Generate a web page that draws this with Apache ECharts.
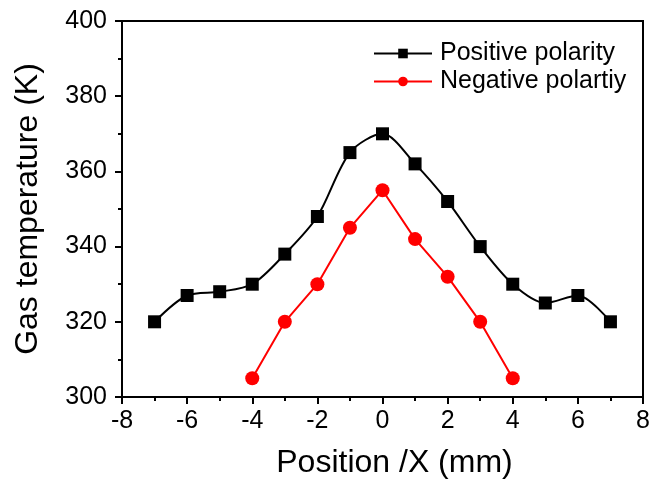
<!DOCTYPE html>
<html>
<head>
<meta charset="utf-8">
<script src="https://cdn.jsdelivr.net/npm/echarts@6/dist/echarts.min.js"></script>
<style>
  html, body { margin: 0; padding: 0; background: #fff; }
  #chart { width: 662px; height: 481px; }
</style>
</head>
<body>
<div id="chart"></div>
<script>
// Gas temperature profiles across the discharge gap
const positions = [-7, -6, -5, -4, -3, -2, -1, 0, 1, 2, 3, 4, 5, 6, 7];
const positiveTemp = [320, 327, 328, 330, 338, 348, 365, 370, 362, 352, 340, 330, 325, 327, 320];
const negativePositions = [-4, -3, -2, -1, 0, 1, 2, 3, 4];
const negativeTemp = [305, 320, 330, 345, 355, 342, 332, 320, 305];
const seriesNames = ['Positive polarity', 'Negative polartiy'];

const pairs = (xs, ys) => xs.map((x, i) => [x, ys[i]]);
const font = 'Liberation Sans, Arial, sans-serif';
const axisLine = { show: true, onZero: false, lineStyle: { color: '#000', width: 2 } };
const tick = { show: true, inside: false, length: 7, lineStyle: { color: '#000', width: 2 } };
const minor = { show: true, splitNumber: 2, length: 4, lineStyle: { color: '#000', width: 2 } };

const chart = echarts.init(document.getElementById('chart'));
chart.setOption({
  animation: false,
  grid: {
    left: 122, right: 19, top: 21, bottom: 84,
    outerBoundsMode: 'none', containLabel: false,
    show: true, borderColor: '#000', borderWidth: 2
  },
  legend: {
    left: 368, top: 36, orient: 'vertical', itemGap: 3,
    itemWidth: 58, itemHeight: 12,
    textStyle: { fontFamily: font, fontSize: 25, color: '#000', padding: [0, 0, 0, 3] },
    data: seriesNames
  },
  xAxis: {
    type: 'value', min: -8, max: 8, interval: 2,
    name: 'Position /X (mm)', nameLocation: 'middle', nameGap: 50,
    nameTextStyle: { fontFamily: font, fontSize: 32, color: '#000', padding: [0, 0, 0, 24] },
    axisLine: axisLine, axisTick: tick, minorTick: minor,
    axisLabel: { fontFamily: font, fontSize: 25, color: '#000', margin: 12 },
    splitLine: { show: false }
  },
  yAxis: {
    type: 'value', min: 300, max: 400, interval: 20,
    name: 'Gas temperature (K)', nameLocation: 'middle', nameGap: 78,
    nameTextStyle: { fontFamily: font, fontSize: 32, color: '#000' },
    axisLine: axisLine, axisTick: tick, minorTick: minor,
    axisLabel: { fontFamily: font, fontSize: 25, color: '#000', margin: 15 },
    splitLine: { show: false }
  },
  series: [
    {
      name: seriesNames[0], type: 'line', smooth: 0.3,
      data: pairs(positions, positiveTemp),
      symbol: 'rect', symbolSize: 13,
      itemStyle: { color: '#000' },
      lineStyle: { color: '#000', width: 2 }
    },
    {
      name: seriesNames[1], type: 'line',
      data: pairs(negativePositions, negativeTemp),
      symbol: 'circle', symbolSize: 14,
      itemStyle: { color: '#ff0000' },
      lineStyle: { color: '#ff0000', width: 2 }
    }
  ]
});
</script>
</body>
</html>
